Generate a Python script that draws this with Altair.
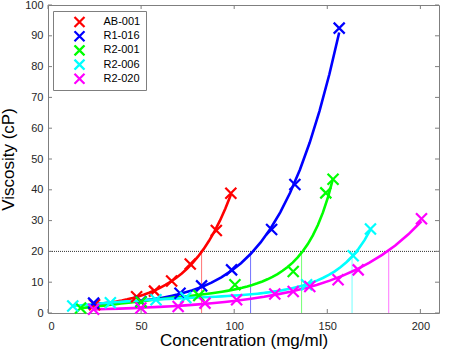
import altair as alt
import pandas as pd

# ---------------- data ----------------
samples = ["AB-001", "R1-016", "R2-001", "R2-006", "R2-020"]
colors = ["#ff0000", "#0000ff", "#00ff00", "#00ffff", "#ff00ff"]

ab001_conc = [25.0, 47.6, 57.2, 66.4, 76.4, 90.4, 98.2]
ab001_visc = [2.7, 5.3, 7.1, 10.4, 15.9, 26.8, 38.9]

r1016_conc = [24.5, 49.9, 70.9, 82.5, 98.6, 120.1, 132.6, 156.4]
r1016_visc = [3.2, 3.7, 6.4, 8.8, 14.0, 27.1, 41.7, 92.5]

r2001_conc = [17.5, 50.0, 81.0, 100.4, 131.7, 149.2, 153.1]
r2001_visc = [1.6, 3.6, 5.7, 9.2, 13.5, 39.0, 43.4]

r2006_conc = [13.3, 33.5, 58.0, 74.0, 138.9, 163.9, 173.2]
r2006_visc = [2.3, 3.3, 4.3, 5.0, 9.2, 18.6, 27.3]

r2020_conc = [24.5, 49.9, 69.9, 84.3, 101.3, 121.8, 131.7, 140.6, 155.8, 166.6, 200.6]
r2020_visc = [1.2, 1.6, 2.1, 3.2, 4.3, 6.2, 7.0, 8.6, 10.8, 14.0, 30.6]

threshold = 20
cross_conc = [82.5, 108.8, 136.2, 163.3, 183.0]

x_ticks = [0, 50, 100, 150, 200]
y_ticks = [0, 10, 20, 30, 40, 50, 60, 70, 80, 90, 100]

# ---------------- tables ----------------
series = [
    (samples[0], ab001_conc, ab001_visc),
    (samples[1], r1016_conc, r1016_visc),
    (samples[2], r2001_conc, r2001_visc),
    (samples[3], r2006_conc, r2006_visc),
    (samples[4], r2020_conc, r2020_visc),
]
rows = []
for name, cs, vs in series:
    for c, v in zip(cs, vs):
        rows.append({"sample": name, "conc": c, "visc": v})
df = pd.DataFrame(rows)

df_cross = pd.DataFrame({"sample": samples, "conc": cross_conc,
                         "y0": [0] * len(samples), "y1": [threshold] * len(samples)})
df_thr = pd.DataFrame({"y": [threshold]})
df_xt = pd.DataFrame({"t": x_ticks})
df_yt = pd.DataFrame({"t": y_ticks})

W, H = 391, 308
FONT = "Liberation Sans"
XSHAPE = "M-1,-1L1,1M-1,1L1,-1"

xscale = alt.Scale(domain=[0, 210], nice=False, zero=False)
yscale = alt.Scale(domain=[0, 100], nice=False, zero=False)
cscale = alt.Scale(domain=samples, range=colors)

xaxis = alt.Axis(values=x_ticks, ticks=False, tickSize=0, domain=False, grid=False,
                 labelFontSize=11, labelColor="#262626", labelFont=FONT, labelPadding=7,
                 title="Concentration (mg/ml)", titleFont=FONT, titleFontSize=17,
                 titleFontWeight="normal", titleColor="#000000", titlePadding=1)
yaxis = alt.Axis(values=y_ticks, ticks=False, tickSize=0, domain=False, grid=False,
                 labelFontSize=11, labelColor="#262626", labelFont=FONT, labelPadding=5,
                 title="Viscosity (cP)", titleFont=FONT, titleFontSize=17,
                 titleFontWeight="normal", titleColor="#000000", titlePadding=7)

legend = alt.Legend(
    title=None, orient="none", legendX=5, legendY=6,
    symbolType=XSHAPE, symbolSize=100, symbolStrokeWidth=2.2, symbolOpacity=1,
    symbolOffset=15, labelOffset=17.5, clipHeight=12,
    labelFont=FONT, labelFontSize=11, labelColor="#000000",
    rowPadding=2.2, padding=5,
    strokeColor="#7f7f7f", fillColor="#ffffff",
)

X = alt.X("conc:Q", scale=xscale, axis=xaxis)
Y = alt.Y("visc:Q", scale=yscale, axis=yaxis)
NOLEG = alt.Color("sample:N", scale=cscale, legend=None)

thr = alt.Chart(df_thr).mark_rule(color="#333333", strokeWidth=1, strokeDash=[1, 1]).encode(
    y=alt.Y("y:Q", scale=yscale, axis=yaxis)
)

vrules = alt.Chart(df_cross).mark_rule(strokeWidth=1, opacity=0.55).encode(
    x=alt.X("conc:Q", scale=xscale, axis=xaxis),
    y=alt.Y("y0:Q", scale=yscale, axis=yaxis),
    y2="y1:Q",
    color=NOLEG,
)

# fitted curves: cubic fit of log(viscosity) against concentration
fits = alt.Chart(df).transform_calculate(
    lv="log(datum.visc)"
).transform_regression(
    "conc", "lv", groupby=["sample"], method="poly", order=3
).transform_calculate(
    visc="exp(datum.lv)"
).mark_line(strokeWidth=2.6).encode(
    x=X, y=Y, color=NOLEG
)

points = alt.Chart(df).mark_point(shape=XSHAPE, filled=False, size=121, strokeWidth=2.2, opacity=1).encode(
    x=X, y=Y, color=alt.Color("sample:N", scale=cscale, legend=legend),
)

tick_len = 4
xt_bot = alt.Chart(df_xt).mark_rule(color="#7f7f7f", strokeWidth=1).encode(
    x=alt.X("t:Q", scale=xscale, axis=xaxis), y=alt.value(H), y2=alt.value(H - tick_len))
xt_top = alt.Chart(df_xt).mark_rule(color="#7f7f7f", strokeWidth=1).encode(
    x=alt.X("t:Q", scale=xscale, axis=xaxis), y=alt.value(0), y2=alt.value(tick_len))
yt_left = alt.Chart(df_yt).mark_rule(color="#7f7f7f", strokeWidth=1).encode(
    y=alt.Y("t:Q", scale=yscale, axis=yaxis), x=alt.value(0), x2=alt.value(tick_len))
yt_right = alt.Chart(df_yt).mark_rule(color="#7f7f7f", strokeWidth=1).encode(
    y=alt.Y("t:Q", scale=yscale, axis=yaxis), x=alt.value(W), x2=alt.value(W - tick_len))

chart = alt.layer(thr, vrules, fits, points, xt_bot, xt_top, yt_left, yt_right).resolve_scale(
    color="independent"
).resolve_legend(color="independent").properties(
    width=W, height=H,
    autosize=alt.AutoSizeParams(type="none"),
    padding={"left": 48, "top": 5, "right": 452 - 48 - W, "bottom": 351 - 5 - H},
    background="#ffffff",
).configure_view(stroke="#7f7f7f", strokeWidth=1).configure_axis(labelFont=FONT, titleFont=FONT)

chart.save("out.html", embed_options={"renderer": "svg", "actions": False})
